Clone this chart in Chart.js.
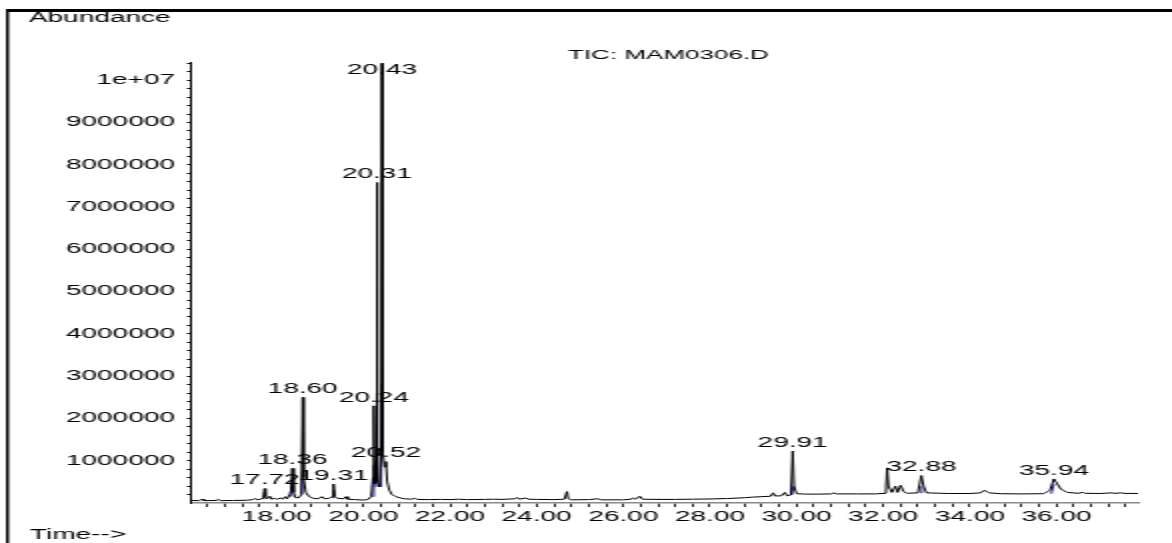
<!DOCTYPE html>
<html lang="en">
<head>
<meta charset="UTF-8">
<title>TIC: MAM0306.D</title>
<script src="https://cdn.jsdelivr.net/npm/chart.js"></script>
<style>
  body { margin: 0; background: #fff; overflow: hidden; }
  /* the original printout is stretched sideways, so draw at half width and scale */
  .wrap { width: 586px; height: 543px; transform: scaleX(2); transform-origin: 0 0; }
</style>
</head>
<body>
<div class="wrap"><canvas id="tic" width="586" height="543"></canvas></div>
<script>
// retention time (min) and abundance of the TIC trace
const times = [16.02, 16.20, 16.28, 16.32, 16.60, 16.66, 16.70, 17.00, 17.30, 17.45, 17.50, 17.55, 17.62, 17.66, 17.70, 17.72, 17.74, 17.78, 17.84, 17.88,
  17.95, 18.00, 18.10, 18.14, 18.20, 18.24, 18.30, 18.33, 18.36, 18.39, 18.43, 18.50, 18.57, 18.60, 18.62, 18.67, 18.75, 18.85, 18.95, 19.05,
  19.10, 19.20, 19.28, 19.31, 19.34, 19.40, 19.55, 19.60, 19.64, 19.80, 20.00, 20.10, 20.18, 20.22, 20.24, 20.26, 20.295, 20.31, 20.33, 20.37,
  20.415, 20.43, 20.445, 20.49, 20.52, 20.55, 20.60, 20.66, 20.75, 20.85, 20.95, 21.10, 21.20, 21.25, 21.50, 21.80, 22.00, 22.20, 22.40, 22.80,
  23.00, 23.20, 23.50, 23.55, 23.60, 23.75, 23.80, 24.00, 24.40, 24.64, 24.70, 24.73, 24.80, 25.20, 25.41, 25.50, 26.00, 26.18, 26.22, 26.28,
  26.38, 26.44, 26.80, 27.20, 27.60, 28.00, 28.40, 28.80, 29.00, 29.20, 29.40, 29.46, 29.50, 29.65, 29.73, 29.78, 29.87, 29.91, 29.94, 30.00,
  30.20, 30.50, 30.80, 30.86, 30.92, 31.40, 31.80, 32.06, 32.09, 32.12, 32.20, 32.28, 32.33, 32.40, 32.47, 32.55, 32.80, 32.88, 32.93, 33.00,
  33.50, 34.00, 34.25, 34.33, 34.45, 34.70, 35.20, 35.70, 35.85, 35.94, 36.00, 36.10, 36.25, 36.50, 36.60, 36.66, 37.00, 37.28, 37.33, 37.50,
  37.56, 37.88];
const abundance = [60000, 55000, 90000, 55000, 60000, 85000, 55000, 60000, 65000, 80000, 110000, 75000, 90000, 110000, 200000, 340000, 150000, 100000, 160000, 90000,
  110000, 90000, 120000, 90000, 150000, 100000, 200000, 300000, 820000, 250000, 130000, 120000, 200000, 2500000, 600000, 250000, 150000, 110000, 100000, 150000,
  100000, 110000, 150000, 450000, 150000, 110000, 100000, 150000, 90000, 80000, 70000, 80000, 150000, 600000, 2300000, 450000, 1000000, 7580000, 500000, 380000,
  1500000, 10400000, 1200000, 850000, 980000, 500000, 300000, 200000, 150000, 120000, 100000, 90000, 110000, 85000, 80000, 85000, 80000, 90000, 80000, 85000,
  90000, 85000, 100000, 130000, 90000, 120000, 90000, 85000, 80000, 90000, 270000, 100000, 75000, 80000, 100000, 75000, 75000, 90000, 120000, 90000,
  160000, 90000, 85000, 85000, 90000, 95000, 105000, 125000, 140000, 150000, 160000, 240000, 165000, 170000, 250000, 170000, 190000, 1230000, 400000, 220000,
  210000, 210000, 215000, 240000, 215000, 215000, 215000, 230000, 830000, 400000, 250000, 400000, 250000, 420000, 270000, 230000, 240000, 650000, 400000, 240000,
  225000, 225000, 240000, 300000, 240000, 220000, 215000, 220000, 300000, 570000, 480000, 330000, 250000, 230000, 250000, 230000, 225000, 240000, 228000, 240000,
  228000, 225000];

// blue integration marks (pairs, null breaks the line)
const markTimes = [17.70, 17.72, null, 18.34, 18.36, null, 18.58, 18.60, null, 19.29, 19.31, null, 20.22, 20.24, null,
  20.29, 20.31, null, 20.41, 20.43, null, 29.89, 29.93, null, 32.86, 32.89, null, 35.88, 35.94];
const markValues = [90000, 250000, null, 150000, 500000, null, 200000, 700000, null, 120000, 300000, null, 150000, 900000, null,
  380000, 2600000, null, 380000, 2800000, null, 190000, 400000, null, 240000, 400000, null, 220000, 450000];

// labelled peaks
const peakNames = ['17.72', '18.36', '18.60', '19.31', '20.24', '20.31', '20.43', '20.52', '29.91', '32.88', '35.94'];
const peakTimes = [17.72, 18.36, 18.60, 19.31, 20.24, 20.31, 20.43, 20.52, 29.91, 32.88, 35.94];
const peakHeights = [340000, 820000, 2500000, 450000, 2300000, 7580000, 10400000, 980000, 1230000, 650000, 570000];

// axis ticks
const xMajor = [18, 20, 22, 24, 26, 28, 30, 32, 34, 36];
const xMajorLabels = ['18.00', '20.00', '22.00', '24.00', '26.00', '28.00', '30.00', '32.00', '34.00', '36.00'];
const yMajor = [1000000, 2000000, 3000000, 4000000, 5000000, 6000000, 7000000, 8000000, 9000000, 10000000];
const yMajorLabels = ['1000000', '2000000', '3000000', '4000000', '5000000', '6000000', '7000000', '8000000', '9000000', '1e+07'];

Chart.defaults.font.family = "'Liberation Sans', Arial, sans-serif";
Chart.defaults.font.size = 14;
Chart.defaults.color = '#000';

function findLabel(list, labels, v) {
    for (let i = 0; i < list.length; i++) {
        if (Math.abs(list[i] - v) < 1e-6 * Math.max(1, list[i])) return labels[i];
    }
    return '';
}

const frame = {
    id: 'frame',
    afterDraw(chart) {
        const c = chart.ctx;
        const area = chart.chartArea;
        const xs = chart.scales.x, ys = chart.scales.y;
        c.save();
        c.fillStyle = '#000';
        c.fillRect(3, 9, 583, 3);
        c.fillRect(3, 9, 1.5, 534);

        c.font = "14px 'Liberation Sans', Arial, sans-serif";
        c.textBaseline = 'middle';
        c.textAlign = 'left';
        c.fillText('Abundance', 14.5, 18);
        c.fillText('Time-->', 15, 535);
        c.font = "13px 'Liberation Sans', Arial, sans-serif";
        c.fillText('TIC: MAM0306.D', 284, 55);

        c.font = "14px 'Liberation Sans', Arial, sans-serif";
        c.textAlign = 'center';
        c.textBaseline = 'bottom';
        for (let i = 0; i < peakNames.length; i++) {
            const px = xs.getPixelForValue(peakTimes[i]);
            let py = ys.getPixelForValue(peakHeights[i]) - 1;
            if (py < area.top + 15) py = area.top + 15;
            c.fillText(peakNames[i], px, py);
        }
        c.restore();
    }
};

const trace = times.map((t, i) => ({ x: t, y: abundance[i] }));
const marks = markTimes.map((t, i) => ({ x: t, y: markValues[i] }));

new Chart(document.getElementById('tic').getContext('2d'), {
    type: 'line',
    data: {
        datasets: [
            { data: trace, borderColor: '#000', borderWidth: 1, pointRadius: 0, tension: 0, order: 1 },
            { data: marks, borderColor: '#1c1ca8', borderWidth: 1, pointRadius: 0, tension: 0, spanGaps: false, order: 2 }
        ]
    },
    options: {
        responsive: false,
        animation: false,
        events: [],
        layout: { padding: { top: 62, right: 17, left: 0, bottom: 0 } },
        plugins: { legend: { display: false }, tooltip: { enabled: false } },
        scales: {
            x: {
                type: 'linear',
                min: 16.02,
                max: 37.88,
                afterFit(s) { s.height = 40; },
                afterBuildTicks(s) {
                    const t = [];
                    for (let v = 16.4; v <= 37.7; v += 0.4) t.push({ value: Math.round(v * 10) / 10 });
                    s.ticks = t;
                },
                ticks: {
                    autoSkip: false,
                    maxRotation: 0,
                    padding: 2,
                    callback: v => findLabel(xMajor, xMajorLabels, v)
                },
                grid: { drawOnChartArea: false, drawTicks: true, tickLength: 4, color: '#222' },
                border: { display: true, color: '#8a8a8a', width: 1.5 }
            },
            y: {
                min: 0,
                max: 10430000,
                afterFit(s) { s.width = 95.5; },
                afterBuildTicks(s) {
                    const t = [];
                    for (let v = 200000; v <= 10400000; v += 200000) t.push({ value: v });
                    s.ticks = t;
                },
                ticks: {
                    autoSkip: false,
                    padding: 6,
                    callback: v => findLabel(yMajor, yMajorLabels, v)
                },
                grid: { drawOnChartArea: false, drawTicks: true, tickLength: 2, color: '#000' },
                border: { display: true, color: '#000', width: 1 }
            }
        }
    },
    plugins: [frame]
});
</script>
</body>
</html>
